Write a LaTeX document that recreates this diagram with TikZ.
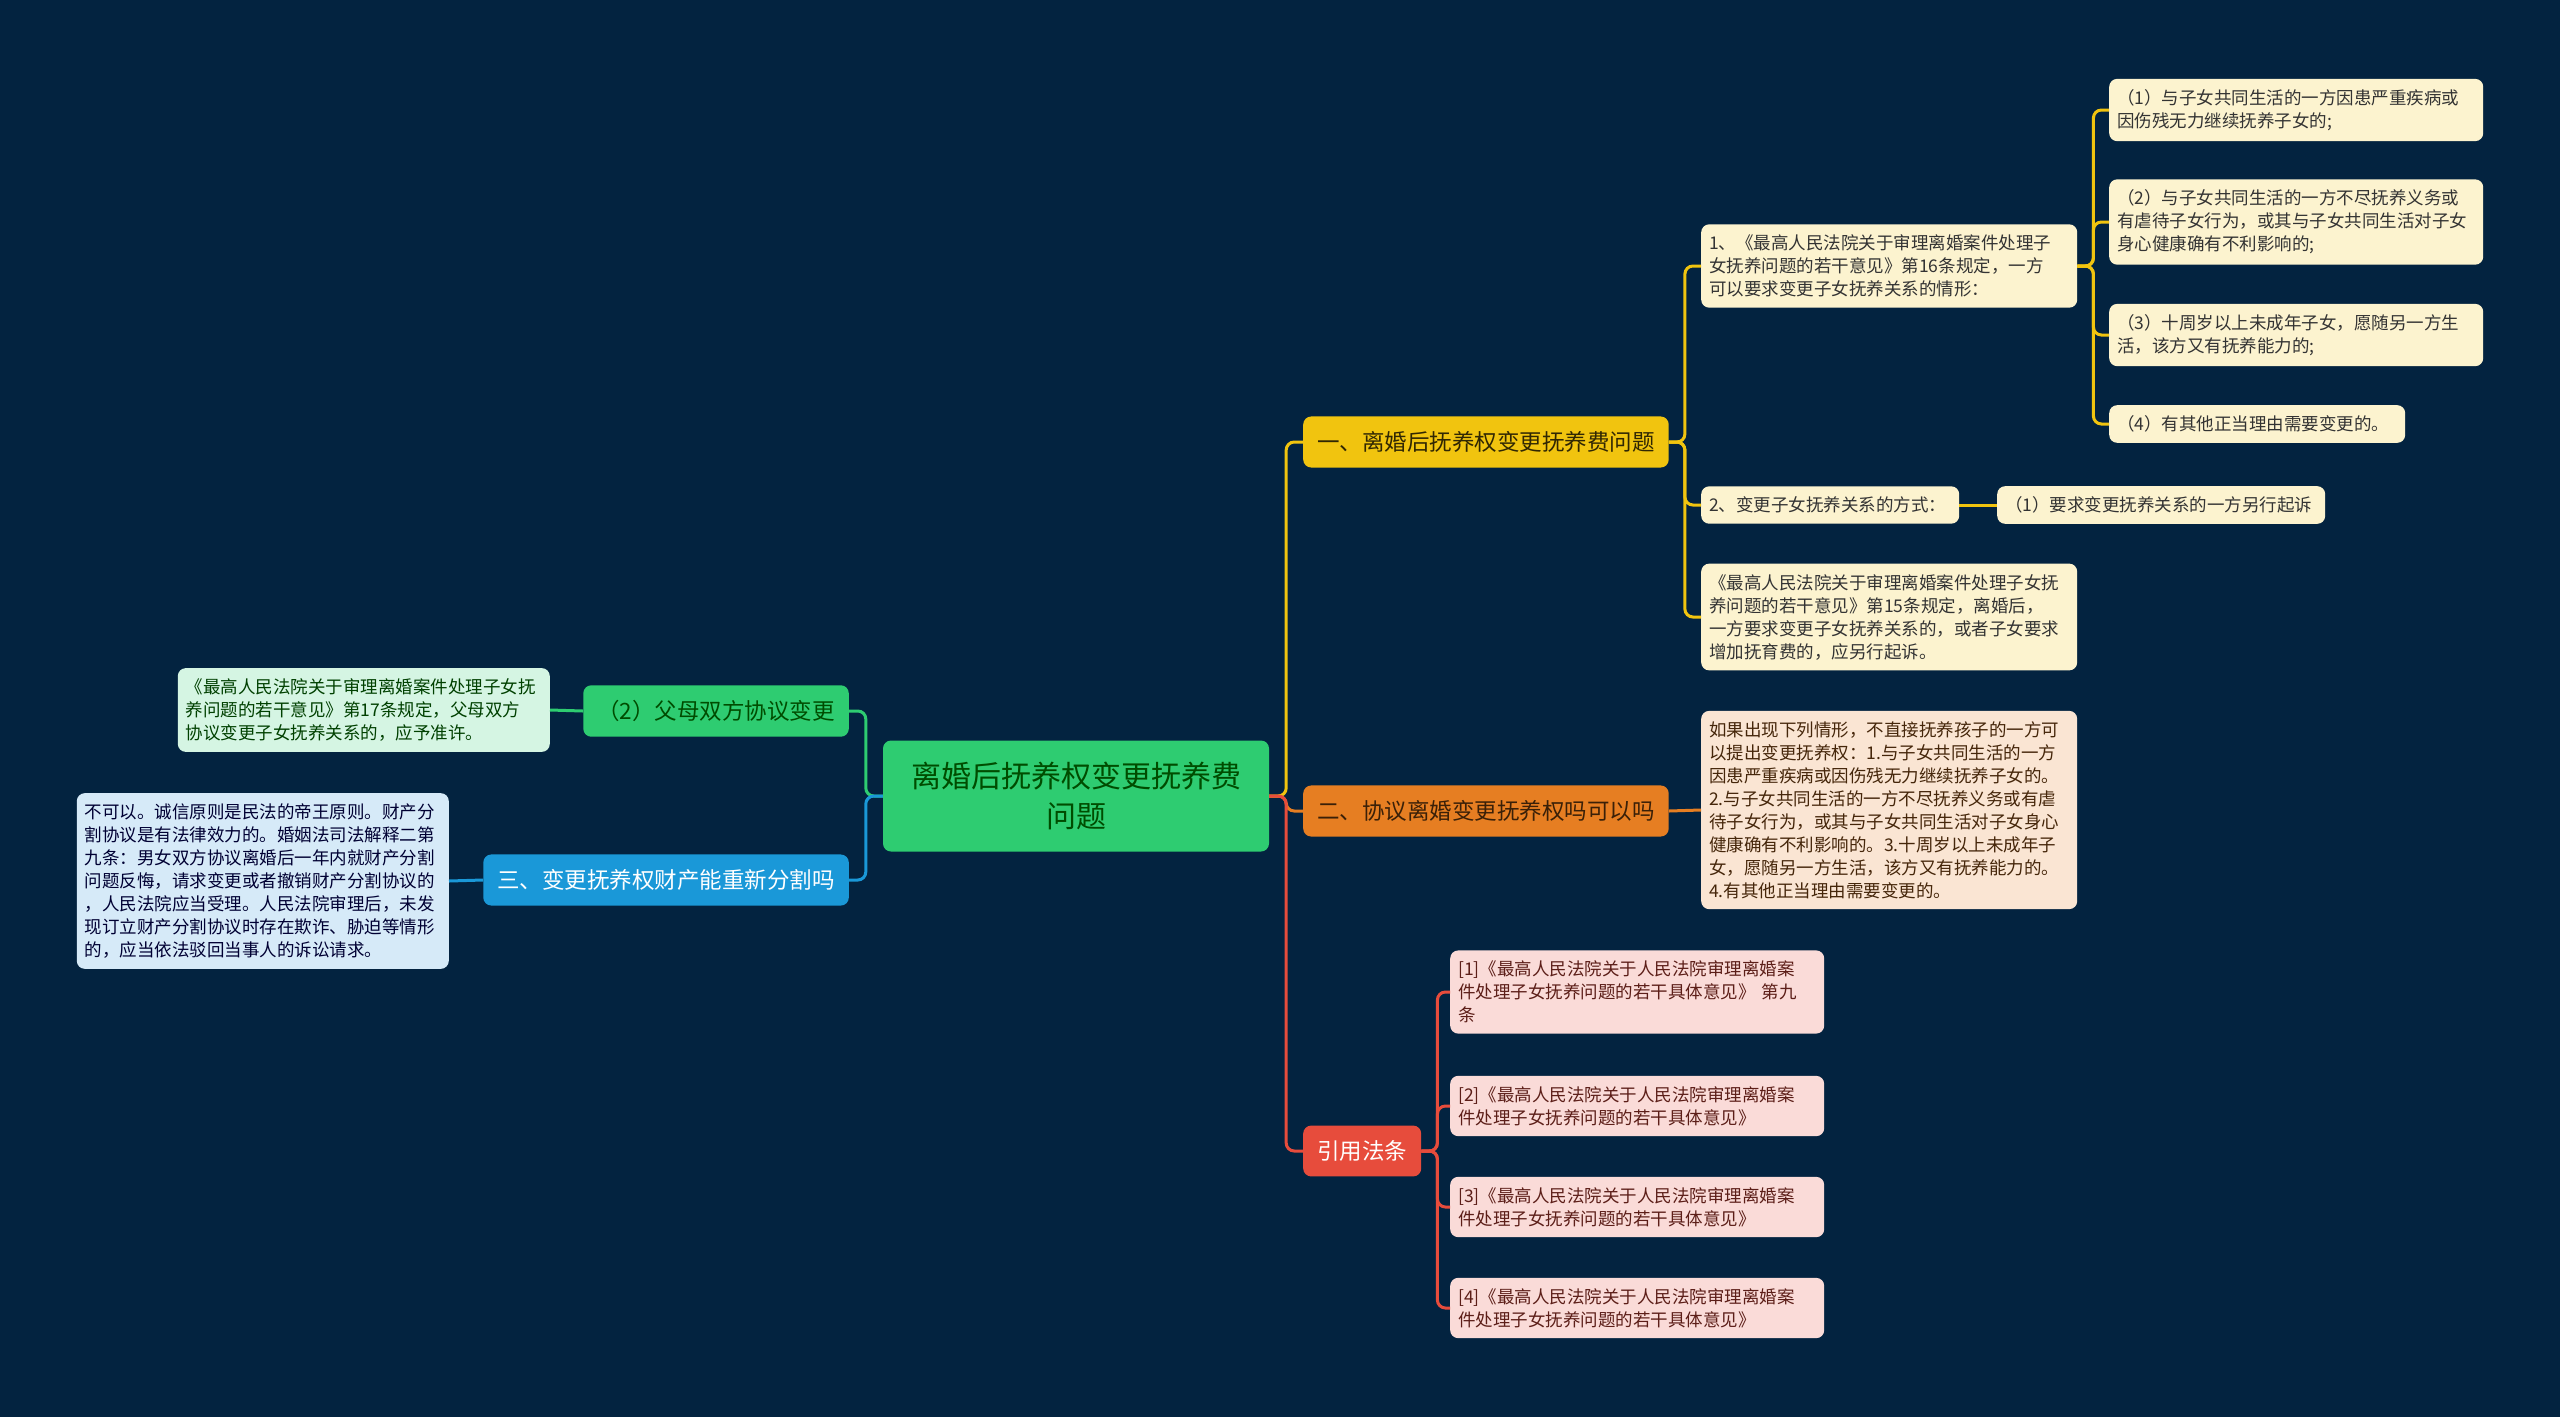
\documentclass[tikz,border=0pt]{standalone}
\usepackage{fontspec}
\newfontfamily\cjk{Noto Sans CJK SC}

\definecolor{bgnavy}{HTML}{032340}
\definecolor{rootgreen}{HTML}{2ECC71}
\definecolor{ylw}{HTML}{F1C40F}
\definecolor{orng}{HTML}{E67E22}
\definecolor{rd}{HTML}{E74C3C}
\definecolor{blu}{HTML}{1A98D8}
\definecolor{ylwleaf}{HTML}{FCF3CF}
\definecolor{orngleaf}{HTML}{FAE5D3}
\definecolor{rdleaf}{HTML}{FADBD8}
\definecolor{grnleaf}{HTML}{D5F5E3}
\definecolor{bluleaf}{HTML}{D6EAF8}

\begin{document}
\begin{tikzpicture}[x=1pt,y=-1pt,
    root node/.style={rounded corners=8pt,fill=rootgreen,text=green!30!black,align=center,
      minimum width=386pt,minimum height=111pt,font=\cjk\fontsize{30}{40}\selectfont},
    main node/.style={rounded corners=8pt,inner xsep=14pt,inner ysep=15pt,
      font=\cjk\fontsize{22.5}{28}\selectfont},
    leaf node/.style={rounded corners=8pt,inner xsep=8pt,inner ysep=10.5pt,align=left,
      font=\cjk\fontsize{17.5}{23}\selectfont},
    link/.style={line width=3pt,rounded corners=8pt}]

  \fill[bgnavy] (0,0) rectangle (2560,1417);
  \useasboundingbox (0,0) rectangle (2560,1417);

  \node[root node] (root) at (1076,796) {离婚后抚养权变更抚养费\\问题};

  \node[main node,fill=ylw,text=black!80!ylw,anchor=west] (b1) at (1303,442) {一、离婚后抚养权变更抚养费问题};
  \node[main node,fill=orng,text=black!75!orng,anchor=west] (b2) at (1303,811) {二、协议离婚变更抚养权吗可以吗};
  \node[main node,fill=rd,text=white,anchor=west] (b3) at (1303,1151) {引用法条};
  \node[main node,fill=rootgreen,text=green!30!black,anchor=east,minimum width=265pt] (g1) at (849,711) {（2）父母双方协议变更};
  \node[main node,fill=blu,text=white,anchor=east] (u1) at (849,880) {三、变更抚养权财产能重新分割吗};

  \node[leaf node,fill=ylwleaf,text=black!80,anchor=west,text width=360pt] (a1) at (1701,266)
    {1、《最高人民法院关于审理离婚案件处理子\\女抚养问题的若干意见》第16条规定，一方\\可以要求变更子女抚养关系的情形：};
  \node[leaf node,fill=ylwleaf,text=black!80,anchor=west,text width=358pt] (a11) at (2109,110)
    {（1）与子女共同生活的一方因患严重疾病或\\因伤残无力继续抚养子女的;};
  \node[leaf node,fill=ylwleaf,text=black!80,anchor=west,text width=358pt] (a12) at (2109,222)
    {（2）与子女共同生活的一方不尽抚养义务或\\有虐待子女行为，或其与子女共同生活对子女\\身心健康确有不利影响的;};
  \node[leaf node,fill=ylwleaf,text=black!80,anchor=west,text width=358pt] (a13) at (2109,335)
    {（3）十周岁以上未成年子女，愿随另一方生\\活，该方又有抚养能力的;};
  \node[leaf node,fill=ylwleaf,text=black!80,anchor=west,text width=280pt] (a14) at (2109,424)
    {（4）有其他正当理由需要变更的。};
  \node[leaf node,fill=ylwleaf,text=black!80,anchor=west,text width=242pt] (a2) at (1701,505)
    {2、变更子女抚养关系的方式：};
  \node[leaf node,fill=ylwleaf,text=black!80,anchor=west,text width=312pt] (a21) at (1997,505)
    {（1）要求变更抚养关系的一方另行起诉};
  \node[leaf node,fill=ylwleaf,text=black!80,anchor=west,text width=360pt] (a3) at (1701,617)
    {《最高人民法院关于审理离婚案件处理子女抚\\养问题的若干意见》第15条规定，离婚后，\\一方要求变更子女抚养关系的，或者子女要求\\增加抚育费的，应另行起诉。};

  \node[leaf node,fill=orngleaf,text=black!70!orng,anchor=west,text width=360pt] (b21) at (1701,810)
    {如果出现下列情形，不直接抚养孩子的一方可\\以提出变更抚养权：1.与子女共同生活的一方\\因患严重疾病或因伤残无力继续抚养子女的。\\2.与子女共同生活的一方不尽抚养义务或有虐\\待子女行为，或其与子女共同生活对子女身心\\健康确有不利影响的。3.十周岁以上未成年子\\女，愿随另一方生活，该方又有抚养能力的。\\4.有其他正当理由需要变更的。};

  \node[leaf node,fill=rdleaf,text=black!60!rd,anchor=west,text width=358pt] (c1) at (1450,992)
    {[1]《最高人民法院关于人民法院审理离婚案\\件处理子女抚养问题的若干具体意见》 第九\\条};
  \node[leaf node,fill=rdleaf,text=black!60!rd,anchor=west,text width=358pt] (c2) at (1450,1106)
    {[2]《最高人民法院关于人民法院审理离婚案\\件处理子女抚养问题的若干具体意见》};
  \node[leaf node,fill=rdleaf,text=black!60!rd,anchor=west,text width=358pt] (c3) at (1450,1207)
    {[3]《最高人民法院关于人民法院审理离婚案\\件处理子女抚养问题的若干具体意见》};
  \node[leaf node,fill=rdleaf,text=black!60!rd,anchor=west,text width=358pt] (c4) at (1450,1308)
    {[4]《最高人民法院关于人民法院审理离婚案\\件处理子女抚养问题的若干具体意见》};

  \node[leaf node,fill=grnleaf,text=green!25!black,anchor=east,text width=356pt] (g11) at (550,710)
    {《最高人民法院关于审理离婚案件处理子女抚\\养问题的若干意见》第17条规定，父母双方\\协议变更子女抚养关系的，应予准许。};
  \node[leaf node,fill=bluleaf,text=blue!20!black,anchor=east,text width=356pt] (u11) at (449,881)
    {不可以。诚信原则是民法的帝王原则。财产分\\割协议是有法律效力的。婚姻法司法解释二第\\九条：男女双方协议离婚后一年内就财产分割\\问题反悔，请求变更或者撤销财产分割协议的\\，人民法院应当受理。人民法院审理后，未发\\现订立财产分割协议时存在欺诈、胁迫等情形\\的，应当依法驳回当事人的诉讼请求。};

  \draw[link,ylw] (root.east) -- ++(17,0) |- (b1.west);
  \draw[link,orng] (root.east) -- ++(17,0) |- (b2.west);
  \draw[link,rd] (root.east) -- ++(17,0) |- (b3.west);
  \draw[link,rootgreen] (root.west) -- ++(-17,0) |- (g1.east);
  \draw[link,blu] (root.west) -- ++(-17,0) |- (u1.east);

  \foreach \n in {a1,a2,a3}
    \draw[link,ylw] (b1.east) -- ++(16,0) |- (\n.west);
  \foreach \n in {a11,a12,a13,a14}
    \draw[link,ylw] (a1.east) -- ++(16,0) |- (\n.west);
  \draw[link,ylw] (a2.east) -- (a21.west);
  \draw[link,orng] (b2.east) -- (b21.west);
  \foreach \n in {c1,c2,c3,c4}
    \draw[link,rd] (b3.east) -- ++(16,0) |- (\n.west);
  \draw[link,rootgreen] (g1.west) -- (g11.east);
  \draw[link,blu] (u1.west) -- (u11.east);
\end{tikzpicture}
\end{document}
